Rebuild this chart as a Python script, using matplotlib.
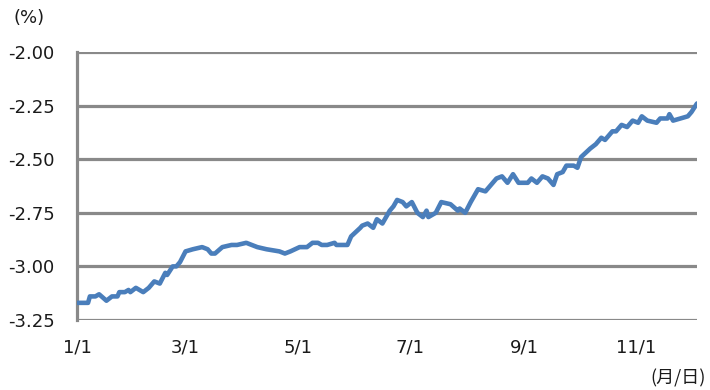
import matplotlib
matplotlib.use("Agg")
import matplotlib.pyplot as plt

# day of year (1/1 = 0) and value in %
days = [0, 6, 7, 10, 12, 16, 19, 22, 23, 26, 28, 29, 32, 36, 39, 42, 45, 48, 49, 52,
        54, 56, 59, 63, 68, 71, 73, 75, 79, 84, 87, 92, 98, 103, 110, 113, 116, 121,
        125, 128, 131, 133, 136, 140, 141, 147, 149, 154, 155, 158, 161, 163, 166, 170,
        172, 174, 177, 179, 182, 185, 188, 190, 191, 195, 198, 203, 207, 208, 211, 214,
        216, 218, 222, 226, 228, 231, 234, 237, 240, 245, 247, 250, 253, 256, 259, 261,
        264, 266, 270, 272, 274, 279, 282, 285, 287, 291, 293, 296, 299, 302, 305, 307,
        310, 315, 317, 321, 322, 324, 328, 332, 334, 337]
values = [-3.17, -3.17, -3.14, -3.14, -3.13, -3.16, -3.14, -3.14, -3.12, -3.12, -3.11,
          -3.12, -3.10, -3.12, -3.10, -3.07, -3.08, -3.03, -3.04, -3.00, -3.00, -2.98,
          -2.93, -2.92, -2.91, -2.92, -2.94, -2.94, -2.91, -2.90, -2.90, -2.89, -2.91,
          -2.92, -2.93, -2.94, -2.93, -2.91, -2.91, -2.89, -2.89, -2.90, -2.90, -2.89,
          -2.90, -2.90, -2.86, -2.82, -2.81, -2.80, -2.82, -2.78, -2.80, -2.74, -2.72,
          -2.69, -2.70, -2.72, -2.70, -2.75, -2.77, -2.74, -2.77, -2.75, -2.70, -2.71,
          -2.74, -2.73, -2.75, -2.70, -2.67, -2.64, -2.65, -2.61, -2.59, -2.58, -2.61,
          -2.57, -2.61, -2.61, -2.59, -2.61, -2.58, -2.59, -2.62, -2.57, -2.56, -2.53,
          -2.53, -2.54, -2.49, -2.45, -2.43, -2.40, -2.41, -2.37, -2.37, -2.34, -2.35,
          -2.32, -2.33, -2.30, -2.32, -2.33, -2.31, -2.31, -2.29, -2.32, -2.31, -2.30,
          -2.28, -2.24]

tick_days = [0, 59, 120, 181, 243, 304]
tick_labels = ["1/1", "3/1", "5/1", "7/1", "9/1", "11/1"]
y_ticks = [-3.25, -3.00, -2.75, -2.50, -2.25, -2.00]

grid_color = "#898989"
line_color = "#4a7ebb"
text_color = "#1a1a1a"

fig = plt.figure(figsize=(7.1, 3.9), dpi=100)
ax = fig.add_axes([77 / 710, 1 - 320 / 390, 620 / 710, 268 / 390])

for yv in y_ticks:
    ax.axhline(yv, color=grid_color, lw=2.3, zorder=1)

ax.plot(days, values, color=line_color, lw=3.3, zorder=3,
        solid_joinstyle="round", solid_capstyle="round")

ax.set_xlim(0, 337)
ax.set_ylim(-3.25, -2.00)
ax.set_yticks(y_ticks)
ax.set_yticklabels([f"{v:.2f}" for v in y_ticks])
ax.set_xticks(tick_days)
ax.set_xticklabels(tick_labels)
ax.tick_params(axis="both", length=0, labelsize=13, colors=text_color)
ax.tick_params(axis="y", pad=16)
ax.tick_params(axis="x", pad=13)

for side in ["top", "right", "bottom"]:
    ax.spines[side].set_visible(False)
ax.spines["left"].set_color(grid_color)
ax.spines["left"].set_linewidth(2.3)

fig.text(29 / 710, 1 - 18 / 390, "(%)", ha="center", va="center", fontsize=13, color=text_color)
fig.text(678 / 710, 1 - 378 / 390, "(月/日)", ha="center", va="center", fontsize=13,
         color=text_color, family=["Noto Sans CJK JP", "DejaVu Sans"])

fig.savefig("out.png", dpi=100)
